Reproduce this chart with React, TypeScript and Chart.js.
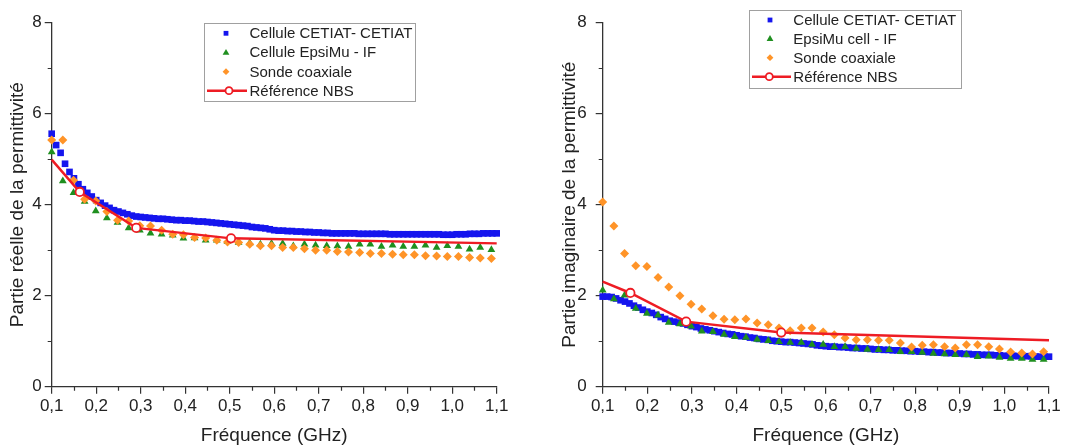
import React, { useEffect, useRef } from 'react';
import { Chart, registerables } from 'chart.js';

Chart.register(...registerables);

const FONT = 'Arial, "Liberation Sans", sans-serif';
const AXIS_COLOR = '#333333';
const TEXT_COLOR = '#222222';
const BLUE = '#1515ee';
const GREEN = '#1f8f1f';
const ORANGE = '#ff9428';
const RED = '#ee1c24';

// Frequencies (GHz)
const FREQ_DENSE = [
  0.10, 0.11, 0.12, 0.13, 0.14, 0.15, 0.16, 0.17, 0.18, 0.19,
  0.20, 0.21, 0.22, 0.23, 0.24, 0.25, 0.26, 0.27, 0.28, 0.29,
  0.30, 0.31, 0.32, 0.33, 0.34, 0.35, 0.36, 0.37, 0.38, 0.39,
  0.40, 0.41, 0.42, 0.43, 0.44, 0.45, 0.46, 0.47, 0.48, 0.49,
  0.50, 0.51, 0.52, 0.53, 0.54, 0.55, 0.56, 0.57, 0.58, 0.59,
  0.60, 0.61, 0.62, 0.63, 0.64, 0.65, 0.66, 0.67, 0.68, 0.69,
  0.70, 0.71, 0.72, 0.73, 0.74, 0.75, 0.76, 0.77, 0.78, 0.79,
  0.80, 0.81, 0.82, 0.83, 0.84, 0.85, 0.86, 0.87, 0.88, 0.89,
  0.90, 0.91, 0.92, 0.93, 0.94, 0.95, 0.96, 0.97, 0.98, 0.99,
  1.00, 1.01, 1.02, 1.03, 1.04, 1.05, 1.06, 1.07, 1.08, 1.09,
  1.10,
];

const FREQ_COARSE = [
  0.100, 0.125, 0.149, 0.174, 0.199, 0.224, 0.248, 0.273, 0.298, 0.322,
  0.347, 0.372, 0.396, 0.421, 0.446, 0.471, 0.495, 0.520, 0.545, 0.569,
  0.594, 0.619, 0.643, 0.668, 0.693, 0.718, 0.742, 0.767, 0.792, 0.816,
  0.841, 0.866, 0.890, 0.915, 0.940, 0.965, 0.989, 1.014, 1.039, 1.063,
  1.088,
];

// Left chart: real part
const LEFT_CETIAT = [
  5.56, 5.31, 5.14, 4.90, 4.72, 4.58, 4.45, 4.34, 4.26, 4.18,
  4.10, 4.04, 3.98, 3.93, 3.88, 3.85, 3.82, 3.79, 3.76, 3.74,
  3.73, 3.72, 3.71, 3.70, 3.69, 3.69, 3.68, 3.67, 3.66, 3.66,
  3.65, 3.65, 3.64, 3.63, 3.63, 3.62, 3.61, 3.60, 3.59, 3.58,
  3.57, 3.56, 3.55, 3.54, 3.53, 3.51, 3.50, 3.49, 3.48, 3.46,
  3.44, 3.43, 3.43, 3.42, 3.42, 3.41, 3.41, 3.40, 3.40, 3.39,
  3.39, 3.38, 3.38, 3.37, 3.37, 3.37, 3.37, 3.37, 3.37, 3.36,
  3.36, 3.36, 3.36, 3.36, 3.36, 3.36, 3.35, 3.35, 3.35, 3.35,
  3.35, 3.35, 3.35, 3.35, 3.35, 3.35, 3.35, 3.35, 3.34, 3.34,
  3.34, 3.35, 3.35, 3.35, 3.36, 3.36, 3.36, 3.37, 3.37, 3.37,
  3.37,
];

const LEFT_EPSIMU = [
  5.16, 4.52, 4.26, 4.07, 3.86, 3.71, 3.61, 3.49, 3.44, 3.37,
  3.35, 3.33, 3.26, 3.27, 3.22, 3.22, 3.19, 3.17, 3.16, 3.13,
  3.15, 3.15, 3.09, 3.13, 3.11, 3.10, 3.09, 3.08, 3.13, 3.13,
  3.08, 3.11, 3.08, 3.08, 3.11, 3.06, 3.10, 3.08, 3.02, 3.06,
  3.01,
];

const LEFT_COAX = [
  5.42, 5.42, 4.54, 4.12, 4.08, 3.85, 3.66, 3.64, 3.54, 3.53,
  3.44, 3.35, 3.34, 3.28, 3.27, 3.22, 3.18, 3.17, 3.13, 3.10,
  3.10, 3.06, 3.06, 3.03, 3.00, 3.00, 2.97, 2.96, 2.95, 2.93,
  2.93, 2.91, 2.90, 2.90, 2.88, 2.87, 2.86, 2.86, 2.84, 2.83,
  2.82,
];

const LEFT_NBS_FREQ = [0.1, 0.163, 0.29, 0.503, 1.1];
const LEFT_NBS = [4.99, 4.28, 3.49, 3.26, 3.15];

// Right chart: imaginary part
const RIGHT_CETIAT = [
  1.98, 1.98, 1.97, 1.94, 1.90, 1.87, 1.83, 1.78, 1.74, 1.69,
  1.65, 1.62, 1.58, 1.53, 1.49, 1.45, 1.43, 1.41, 1.39, 1.36,
  1.33, 1.31, 1.28, 1.26, 1.24, 1.22, 1.20, 1.18, 1.16, 1.15,
  1.13, 1.11, 1.10, 1.08, 1.07, 1.05, 1.04, 1.03, 1.01, 1.00,
  0.99, 0.98, 0.98, 0.97, 0.96, 0.95, 0.94, 0.93, 0.91, 0.90,
  0.89, 0.88, 0.88, 0.87, 0.87, 0.86, 0.85, 0.85, 0.84, 0.84,
  0.83, 0.82, 0.82, 0.81, 0.81, 0.80, 0.80, 0.79, 0.79, 0.78,
  0.78, 0.77, 0.77, 0.76, 0.76, 0.75, 0.75, 0.74, 0.74, 0.73,
  0.73, 0.72, 0.72, 0.71, 0.71, 0.70, 0.70, 0.70, 0.69, 0.69,
  0.68, 0.68, 0.68, 0.67, 0.67, 0.67, 0.67, 0.66, 0.66, 0.66,
  0.66,
];

const RIGHT_EPSIMU = [
  2.12, 1.93, 2.01, 1.72, 1.61, 1.57, 1.41, 1.38, 1.33, 1.22,
  1.21, 1.15, 1.10, 1.08, 1.04, 1.01, 0.99, 0.97, 0.97, 0.93,
  0.93, 0.88, 0.88, 0.84, 0.82, 0.81, 0.81, 0.77, 0.77, 0.75,
  0.73, 0.72, 0.70, 0.70, 0.66, 0.67, 0.64, 0.62, 0.62, 0.60,
  0.60,
];

const RIGHT_COAX = [
  4.06, 3.53, 2.93, 2.66, 2.64, 2.40, 2.19, 2.00, 1.81, 1.71,
  1.56, 1.48, 1.47, 1.49, 1.40, 1.36, 1.29, 1.23, 1.29, 1.29,
  1.20, 1.14, 1.07, 1.03, 1.03, 1.02, 1.02, 0.96, 0.87, 0.91,
  0.92, 0.88, 0.85, 0.92, 0.92, 0.88, 0.83, 0.76, 0.74, 0.72,
  0.77,
];

const RIGHT_NBS_FREQ = [0.1, 0.162, 0.287, 0.5, 1.1];
const RIGHT_NBS = [2.31, 2.06, 1.43, 1.19, 1.02];

const X_MINOR = [0.15, 0.25, 0.35, 0.45, 0.55, 0.65, 0.75, 0.85, 0.95, 1.05];
const Y_MINOR = [1, 3, 5, 7];

const pts = (xs: number[], ys: number[]) => ys.map((y, i) => ({ x: xs[i], y }));

const minorTicksPlugin = {
  id: 'minorTicks',
  afterDraw(chart: any) {
    const { ctx } = chart;
    const xs = chart.scales.x;
    const ys = chart.scales.y;
    ctx.save();
    ctx.strokeStyle = AXIS_COLOR;
    ctx.lineWidth = 1.2;
    ctx.beginPath();
    for (const v of X_MINOR) {
      const px = Math.round(xs.getPixelForValue(v)) + 0.5;
      ctx.moveTo(px, ys.bottom);
      ctx.lineTo(px, ys.bottom + 4);
    }
    for (const v of Y_MINOR) {
      const py = Math.round(ys.getPixelForValue(v)) + 0.5;
      ctx.moveTo(xs.left, py);
      ctx.lineTo(xs.left - 4, py);
    }
    ctx.stroke();
    ctx.restore();
  },
};

function drawMarker(ctx: CanvasRenderingContext2D, kind: string, x: number, y: number, r: number, color: string) {
  ctx.fillStyle = color;
  ctx.beginPath();
  if (kind === 'rect') {
    ctx.rect(x - r, y - r, 2 * r, 2 * r);
  } else if (kind === 'triangle') {
    ctx.moveTo(x, y - r);
    ctx.lineTo(x + r, y + r * 0.75);
    ctx.lineTo(x - r, y + r * 0.75);
    ctx.closePath();
  } else if (kind === 'rectRot') {
    ctx.moveTo(x, y - r);
    ctx.lineTo(x + r, y);
    ctx.lineTo(x, y + r);
    ctx.lineTo(x - r, y);
    ctx.closePath();
  }
  ctx.fill();
}

const boxLegendPlugin = {
  id: 'boxLegend',
  afterDraw(chart: any, _args: any, o: any) {
    const { ctx } = chart;
    ctx.save();
    ctx.strokeStyle = '#a0a0a0';
    ctx.lineWidth = 1;
    ctx.strokeRect(Math.round(o.x) + 0.5, Math.round(o.y) + 0.5, o.w, o.h);
    ctx.font = `15px ${FONT}`;
    ctx.fillStyle = TEXT_COLOR;
    ctx.textBaseline = 'middle';
    ctx.textAlign = 'left';
    const dsets = chart.data.datasets;
    o.rows.forEach((cy: number, i: number) => {
      const ds = dsets[i];
      if (i < 3) {
        const size = ds.pointStyle === 'rect' ? 2.4 : 3.4;
        drawMarker(ctx, ds.pointStyle, o.markerX, cy, size, ds.backgroundColor);
      } else {
        ctx.strokeStyle = RED;
        ctx.lineWidth = 2.5;
        ctx.beginPath();
        ctx.moveTo(o.lineX0, cy);
        ctx.lineTo(o.lineX1, cy);
        ctx.stroke();
        ctx.beginPath();
        ctx.arc(o.circleX, cy, 3.5, 0, Math.PI * 2);
        ctx.fillStyle = '#ffffff';
        ctx.fill();
        ctx.lineWidth = 1.8;
        ctx.stroke();
      }
      ctx.fillStyle = TEXT_COLOR;
      ctx.fillText(ds.label, o.textX, cy + 1);
    });
    ctx.restore();
  },
};

interface PanelCfg {
  yTitle: string;
  labels: string[];
  cetiat: number[];
  epsimu: number[];
  coax: number[];
  nbsFreq: number[];
  nbs: number[];
  yAxisWidth: number;
  yTitlePad: number;
  yTickPad: number;
  rightPad: number;
  legend: any;
}

function Panel({ cfg, left, width }: { cfg: PanelCfg; left: number; width: number }) {
  const ref = useRef<HTMLCanvasElement | null>(null);
  useEffect(() => {
    if (!ref.current) return;
    const chart = new Chart(ref.current, {
      type: 'scatter',
      data: {
        datasets: [
          {
            label: cfg.labels[0],
            data: pts(FREQ_DENSE, cfg.cetiat),
            pointStyle: 'rect',
            pointRadius: 4.7,
            backgroundColor: BLUE,
            borderColor: BLUE,
            borderWidth: 0,
            order: 4,
            clip: false,
          },
          {
            label: cfg.labels[1],
            data: pts(FREQ_COARSE, cfg.epsimu),
            pointStyle: 'triangle',
            pointRadius: 4.5,
            backgroundColor: GREEN,
            borderColor: GREEN,
            borderWidth: 0,
            order: 3,
            clip: false,
          },
          {
            label: cfg.labels[2],
            data: pts(FREQ_COARSE, cfg.coax),
            pointStyle: 'rectRot',
            pointRadius: 4.5,
            backgroundColor: ORANGE,
            borderColor: ORANGE,
            borderWidth: 0,
            order: 2,
            clip: false,
          },
          {
            label: cfg.labels[3],
            data: pts(cfg.nbsFreq, cfg.nbs),
            showLine: true,
            borderColor: RED,
            borderWidth: 2.5,
            tension: 0,
            pointStyle: 'circle',
            pointRadius: [0, 4.2, 4.2, 4.2, 0],
            pointBackgroundColor: '#ffffff',
            pointBorderColor: RED,
            pointBorderWidth: 1.8,
            backgroundColor: RED,
            order: 1,
            clip: false,
          } as any,
        ],
      },
      options: {
        animation: false,
        responsive: false,
        devicePixelRatio: 1,
        layout: { padding: { top: 22.7, right: cfg.rightPad, bottom: 0, left: 0 } },
        plugins: {
          legend: { display: false },
          tooltip: { enabled: false },
          boxLegend: cfg.legend,
        } as any,
        scales: {
          x: {
            type: 'linear',
            min: 0.1,
            max: 1.1,
            afterFit: (s: any) => {
              s.height = 58.3;
            },
            ticks: {
              stepSize: 0.1,
              padding: 2,
              color: TEXT_COLOR,
              font: { family: FONT, size: 17 },
              maxRotation: 0,
              autoSkip: false,
              callback: (v: any) => (Math.round(Number(v) * 10) / 10).toFixed(1).replace('.', ','),
            },
            grid: {
              drawOnChartArea: false,
              drawTicks: true,
              tickLength: 7,
              color: AXIS_COLOR,
              lineWidth: 1.2,
            },
            border: { display: true, color: AXIS_COLOR, width: 1.3 },
            title: {
              display: true,
              text: 'Fréquence (GHz)',
              color: TEXT_COLOR,
              font: { family: FONT, size: 19, lineHeight: 1 },
              padding: { top: 0, bottom: 0 },
            },
          },
          y: {
            type: 'linear',
            min: 0,
            max: 8,
            afterFit: (s: any) => {
              s.width = cfg.yAxisWidth;
            },
            ticks: {
              stepSize: 2,
              padding: cfg.yTickPad,
              color: TEXT_COLOR,
              font: { family: FONT, size: 17 },
              callback: (v: any) => String(v),
            },
            grid: {
              drawOnChartArea: false,
              drawTicks: true,
              tickLength: 7,
              color: AXIS_COLOR,
              lineWidth: 1.2,
            },
            border: { display: true, color: AXIS_COLOR, width: 1.3 },
            title: {
              display: true,
              text: cfg.yTitle,
              color: TEXT_COLOR,
              font: { family: FONT, size: 19, lineHeight: 1 },
              padding: { top: cfg.yTitlePad, bottom: 0 },
            },
          },
        },
      },
      plugins: [minorTicksPlugin, boxLegendPlugin],
    });
    return () => chart.destroy();
  }, [cfg]);
  return (
    <canvas
      ref={ref}
      width={width}
      height={445}
      style={{ position: 'absolute', left, top: 0, width, height: 445 }}
    />
  );
}

const LEFT_CFG: PanelCfg = {
  yTitle: 'Partie réelle de la permittivité',
  labels: ['Cellule CETIAT- CETIAT', 'Cellule EpsiMu - IF', 'Sonde coaxiale', 'Référence NBS'],
  cetiat: LEFT_CETIAT,
  epsimu: LEFT_EPSIMU,
  coax: LEFT_COAX,
  nbsFreq: LEFT_NBS_FREQ,
  nbs: LEFT_NBS,
  yAxisWidth: 51.7,
  yTitlePad: 8,
  yTickPad: 3,
  rightPad: 534 - 496.7,
  legend: {
    x: 204, y: 23, w: 211, h: 78,
    rows: [33.3, 52.3, 71.7, 90.7],
    markerX: 226, textX: 249.5,
    lineX0: 207, lineX1: 247, circleX: 229,
  },
};

const RIGHT_CFG: PanelCfg = {
  yTitle: 'Partie imaginaire de la permittivité',
  labels: ['Cellule CETIAT- CETIAT', 'EpsiMu cell - IF', 'Sonde coaxiale', 'Référence NBS'],
  cetiat: RIGHT_CETIAT,
  epsimu: RIGHT_EPSIMU,
  coax: RIGHT_COAX,
  nbsFreq: RIGHT_NBS_FREQ,
  nbs: RIGHT_NBS,
  yAxisWidth: 602.7 - 534,
  yTitlePad: 26,
  yTickPad: 9,
  rightPad: 534 - (1049 - 534),
  legend: {
    x: 215.3, y: 10, w: 212, h: 78,
    rows: [20, 38.5, 57.7, 76.7],
    markerX: 236, textX: 259.3,
    lineX0: 218, lineX1: 257, circleX: 235.3,
  },
};

export default function App() {
  return (
    <div
      style={{
        position: 'absolute',
        left: 0,
        top: 0,
        width: 1068,
        height: 445,
        background: '#ffffff',
        overflow: 'hidden',
      }}
    >
      <Panel cfg={LEFT_CFG} left={0} width={534} />
      <Panel cfg={RIGHT_CFG} left={534} width={534} />
    </div>
  );
}
